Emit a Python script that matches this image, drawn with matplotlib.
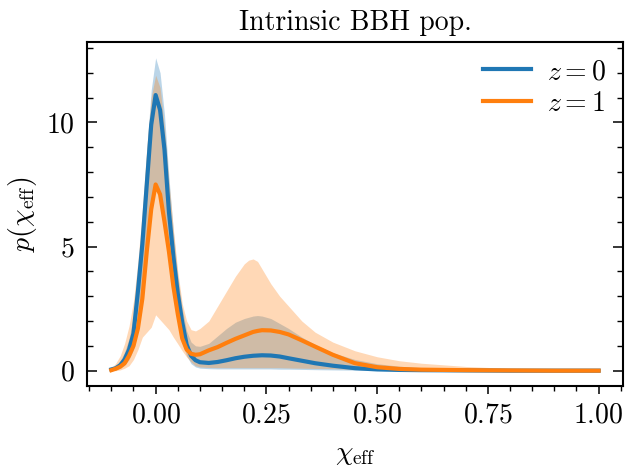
import matplotlib
matplotlib.use("Agg")
import matplotlib.pyplot as plt
import numpy as np
from matplotlib.ticker import MultipleLocator

plt.rcParams['font.family'] = 'serif'
plt.rcParams['font.serif'] = ['cmr10']
plt.rcParams['mathtext.fontset'] = 'cm'
plt.rcParams['axes.formatter.use_mathtext'] = True
plt.rcParams['axes.unicode_minus'] = False

FS = 20

# chi_eff grid
chi = [-0.1, -0.09, -0.08, -0.07, -0.06, -0.05, -0.04, -0.03, -0.02, -0.01,
       0.0, 0.01, 0.02, 0.03, 0.04, 0.05, 0.06, 0.07, 0.08, 0.09,
       0.1, 0.12, 0.14, 0.16, 0.18, 0.2, 0.21, 0.22, 0.23, 0.24, 0.26, 0.28,
       0.3, 0.33, 0.36, 0.4, 0.45, 0.5, 0.55, 0.6, 0.7, 0.8, 0.9, 1.0]

# z = 0: median, lower, upper
p_z0 = [0.05, 0.1, 0.22, 0.45, 0.85, 1.5, 3.2, 5.1, 7.5, 9.9,
        11.1, 10.5, 8.9, 6.4, 4.6, 3.1, 1.95, 1.05, 0.6, 0.42,
        0.34, 0.31, 0.35, 0.42, 0.5, 0.56, 0.58, 0.6, 0.61, 0.62, 0.61, 0.57,
        0.5, 0.4, 0.3, 0.2, 0.1, 0.05, 0.03, 0.02, 0.01, 0.0, 0.0, 0.0]
lo_z0 = [0.0, 0.04, 0.1, 0.22, 0.45, 0.85, 1.6, 2.8, 4.6, 6.4,
         7.6, 7.2, 6.0, 4.7, 3.3, 2.1, 1.15, 0.6, 0.28, 0.15,
         0.1, 0.08, 0.07, 0.07, 0.07, 0.07, 0.07, 0.07, 0.07, 0.07, 0.07, 0.06,
         0.06, 0.05, 0.04, 0.03, 0.02, 0.01, 0.0, 0.0, 0.0, 0.0, 0.0, 0.0]
hi_z0 = [0.1, 0.2, 0.4, 0.75, 1.3, 2.2, 4.0, 6.2, 8.9, 11.3,
         12.6, 12.0, 10.3, 7.8, 5.6, 3.8, 2.5, 1.6, 1.15, 1.0,
         0.98, 1.1, 1.4, 1.7, 1.95, 2.1, 2.15, 2.2, 2.22, 2.2, 2.1, 1.9,
         1.7, 1.35, 1.05, 0.72, 0.45, 0.28, 0.18, 0.12, 0.05, 0.02, 0.01, 0.0]

# z = 1: median, lower, upper
p_z1 = [0.02, 0.08, 0.16, 0.3, 0.6, 1.0, 1.7, 2.9, 4.8, 6.5,
        7.5, 7.1, 6.0, 4.8, 3.4, 2.28, 1.3, 0.85, 0.68, 0.64,
        0.66, 0.82, 0.95, 1.12, 1.28, 1.42, 1.49, 1.56, 1.6, 1.63, 1.62, 1.56,
        1.46, 1.22, 0.97, 0.64, 0.3, 0.14, 0.07, 0.04, 0.02, 0.01, 0.0, 0.0]
lo_z1 = [0.0, 0.0, 0.03, 0.1, 0.2, 0.45, 0.85, 1.35, 1.55, 1.75,
         2.25, 2.05, 1.85, 1.65, 1.35, 1.08, 0.8, 0.55, 0.35, 0.2,
         0.15, 0.13, 0.12, 0.12, 0.12, 0.12, 0.12, 0.12, 0.12, 0.12, 0.12, 0.12,
         0.11, 0.1, 0.09, 0.08, 0.05, 0.03, 0.02, 0.01, 0.0, 0.0, 0.0, 0.0]
hi_z1 = [0.1, 0.3, 0.6, 1.1, 1.8, 2.8, 4.4, 6.5, 9.0, 11.0,
         11.9, 11.4, 9.8, 7.6, 5.7, 4.0, 2.7, 2.0, 1.65, 1.6,
         1.7, 2.0, 2.6, 3.2, 3.8, 4.3, 4.45, 4.5, 4.4, 4.1, 3.5, 3.0,
         2.6, 2.0, 1.55, 1.15, 0.8, 0.56, 0.4, 0.3, 0.17, 0.09, 0.05, 0.03]

fig = plt.figure(figsize=(6.28, 4.74), dpi=100)
ax = fig.add_subplot(111)
fig.subplots_adjust(left=0.1385, right=0.992, top=0.911, bottom=0.185)

ax.fill_between(chi, lo_z0, hi_z0, color='C0', alpha=0.3, lw=0)
ax.fill_between(chi, lo_z1, hi_z1, color='C1', alpha=0.3, lw=0)
ax.plot(chi, p_z0, color='C0', lw=3, label=r'$z=0$')
ax.plot(chi, p_z1, color='C1', lw=3, label=r'$z=1$')

ax.set_title('Intrinsic BBH pop.', fontsize=FS, pad=9)
ax.set_xlabel(r'$\chi_{\rm eff}$', fontsize=FS, labelpad=9)
ax.set_ylabel(r'$p(\chi_{\rm eff})$', fontsize=FS, labelpad=5)

ax.xaxis.set_major_locator(MultipleLocator(0.25))
ax.xaxis.set_minor_locator(MultipleLocator(0.05))
ax.yaxis.set_major_locator(MultipleLocator(5))
ax.yaxis.set_minor_locator(MultipleLocator(1))

ax.tick_params(axis='x', which='both', direction='out', bottom=True, top=False,
               labelsize=FS, pad=6)
ax.tick_params(axis='x', which='major', length=5.5, width=1.1)
ax.tick_params(axis='x', which='minor', length=3.5, width=1.0)
ax.tick_params(axis='y', which='both', direction='in', left=True, right=True,
               labelsize=FS, pad=9)
ax.tick_params(axis='y', which='major', length=7.5, width=1.1)
ax.tick_params(axis='y', which='minor', length=4.5, width=1.0)
for s in ax.spines.values():
    s.set_linewidth(1.5)

ax.legend(loc='upper right', frameon=False, fontsize=FS, handlelength=1.7,
          handletextpad=0.6, labelspacing=0.18, borderaxespad=0.2)

fig.savefig('out.png', dpi=100)
